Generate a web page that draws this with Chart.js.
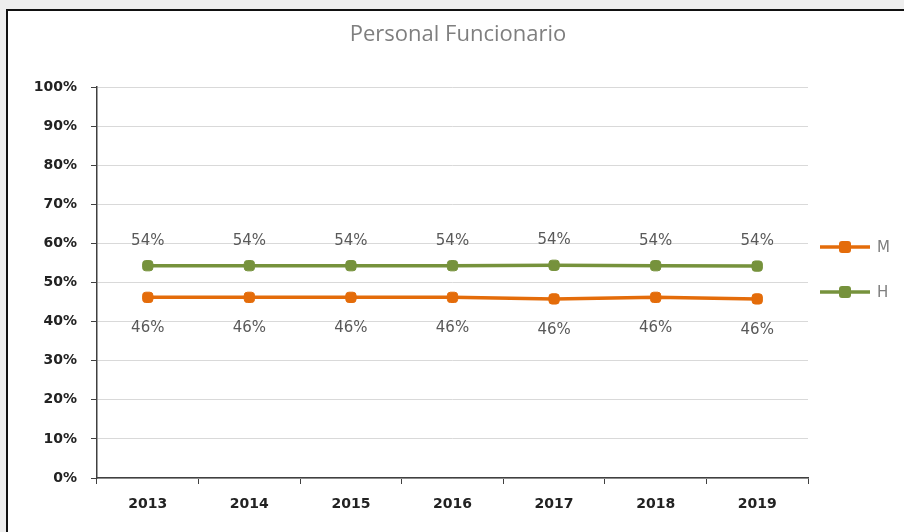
<!DOCTYPE html>
<html>
<head>
<meta charset="utf-8">
<title>Personal Funcionario</title>
<script src="https://cdn.jsdelivr.net/npm/chart.js@4.4.0/dist/chart.umd.min.js"></script>
<style>
    html, body { margin: 0; padding: 0; background: #eeeeee; width: 904px; height: 532px; overflow: hidden; }
    #frame {
        position: absolute; left: 6px; top: 9px; width: 898px; height: 523px;
        border-top: 2px solid #111; border-left: 2px solid #111; background: #ffffff;
    }
    #chart { display: block; }
</style>
</head>
<body>
<div id="frame"><canvas id="chart" width="896" height="521"></canvas></div>
<script>
// Datos del gráfico
const chartTitle = 'Personal Funcionario';
const years = ['2013', '2014', '2015', '2016', '2017', '2018', '2019'];
const mujeres = [46.2, 46.2, 46.2, 46.2, 45.8, 46.2, 45.8];
const hombres = [54.3, 54.3, 54.3, 54.3, 54.4, 54.3, 54.2];
const seriesNames = ['M', 'H'];
const yTicks = [0, 10, 20, 30, 40, 50, 60, 70, 80, 90, 100];

const ORANGE = '#E46C0A';
const GREEN = '#76923C';

document.addEventListener('DOMContentLoaded', function () {

    // Título centrado sobre todo el lienzo (no solo el área del gráfico)
    const topTitle = {
        id: 'topTitle',
        afterDraw(chart) {
            const ctx = chart.ctx;
            ctx.save();
            ctx.font = '22px "Open Sans"';
            ctx.fillStyle = '#7f7f7f';
            ctx.textAlign = 'center';
            ctx.textBaseline = 'middle';
            ctx.fillText(chartTitle, chart.width / 2 + 2, 24);
            ctx.restore();
        }
    };

    // Etiquetas de datos: H encima, M debajo
    const dataLabels = {
        id: 'dataLabels',
        afterDatasetsDraw(chart) {
            const ctx = chart.ctx;
            ctx.save();
            ctx.font = '15px "DejaVu Sans"';
            ctx.fillStyle = '#595959';
            ctx.textAlign = 'center';
            ctx.textBaseline = 'middle';
            chart.data.datasets.forEach((ds, i) => {
                const meta = chart.getDatasetMeta(i);
                meta.data.forEach((pt, j) => {
                    const dy = ds.labelAbove ? -25 : 31;
                    ctx.fillText(Math.round(ds.data[j]) + '%', pt.x, pt.y + dy);
                });
            });
            ctx.restore();
        }
    };

    // Leyenda a la derecha, estilo línea con marcador
    const sideLegend = {
        id: 'sideLegend',
        afterDraw(chart) {
            const ctx = chart.ctx;
            const area = chart.chartArea;
            ctx.save();
            chart.data.datasets.forEach((ds, i) => {
                const y = area.top + 160 + i * 45;
                const x0 = area.right + 12;
                ctx.strokeStyle = ds.borderColor;
                ctx.lineWidth = 3.5;
                ctx.beginPath();
                ctx.moveTo(x0, y);
                ctx.lineTo(x0 + 50, y);
                ctx.stroke();
                ctx.fillStyle = ds.borderColor;
                ctx.beginPath();
                ctx.roundRect(x0 + 19, y - 6, 12, 12, 3);
                ctx.fill();
                ctx.font = '15px "DejaVu Sans"';
                ctx.fillStyle = '#7f7f7f';
                ctx.textAlign = 'left';
                ctx.textBaseline = 'middle';
                ctx.fillText(ds.label, x0 + 57, y + 1);
            });
            ctx.restore();
        }
    };

    function makeDataset(label, values, color, above) {
        return {
            label: label,
            data: values,
            borderColor: color,
            backgroundColor: color,
            borderWidth: 3.5,
            tension: 0,
            pointStyle: 'rectRounded',
            pointRadius: 6,
            pointBorderWidth: 1,
            pointBackgroundColor: color,
            pointBorderColor: color,
            labelAbove: above
        };
    }

    const ctx = document.getElementById('chart').getContext('2d');
    new Chart(ctx, {
        type: 'line',
        data: {
            labels: years,
            datasets: [
                makeDataset(seriesNames[0], mujeres, ORANGE, false),
                makeDataset(seriesNames[1], hombres, GREEN, true)
            ]
        },
        options: {
            responsive: false,
            animation: false,
            devicePixelRatio: 1,
            layout: { padding: { left: 0, right: 96, top: 76, bottom: 0 } },
            plugins: {
                legend: { display: false },
                tooltip: { enabled: false },
                title: { display: false }
            },
            scales: {
                x: {
                    offset: true,
                    grid: {
                        offset: true,
                        drawOnChartArea: false,
                        tickLength: 6,
                        tickColor: '#404040'
                    },
                    border: { color: '#404040', width: 1.5 },
                    ticks: {
                        color: '#222222',
                        padding: 12,
                        font: { family: '"DejaVu Sans"', size: 14, weight: 'bold' }
                    },
                    afterFit: scale => { scale.height = 54; }
                },
                y: {
                    min: yTicks[0],
                    max: yTicks[yTicks.length - 1],
                    afterBuildTicks: scale => { scale.ticks = yTicks.map(v => ({ value: v })); },
                    grid: {
                        color: '#d9d9d9',
                        tickLength: 6,
                        tickColor: '#404040'
                    },
                    border: { color: '#404040', width: 1.5 },
                    ticks: {
                        color: '#222222',
                        padding: 14,
                        font: { family: '"DejaVu Sans"', size: 14, weight: 'bold' },
                        callback: v => v + '%'
                    },
                    afterFit: scale => { scale.width = 89; }
                }
            }
        },
        plugins: [topTitle, dataLabels, sideLegend]
    });
});
</script>
</body>
</html>
